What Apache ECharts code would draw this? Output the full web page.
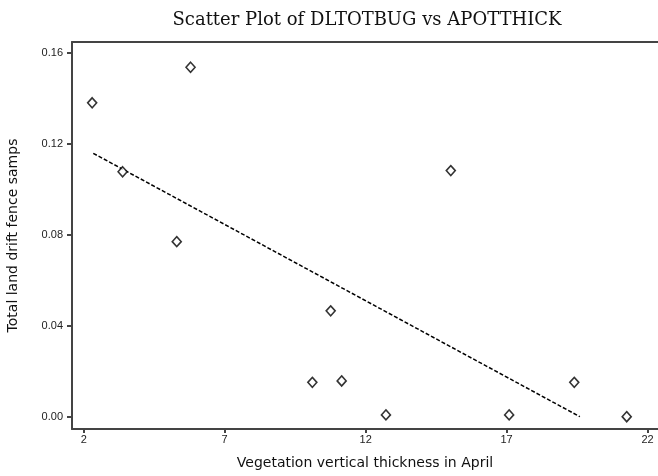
<!DOCTYPE html>
<html>
<head>
<meta charset="utf-8">
<script src="https://cdn.jsdelivr.net/npm/echarts@6/dist/echarts.min.js"></script>
<style>html,body{margin:0;padding:0;background:#fff}#c{width:658px;height:476px}</style>
</head>
<body>
<div id="c"></div>
<script>
const xValues = [2.30, 3.38, 5.79, 5.30, 10.11, 10.76, 11.15, 12.72, 15.02, 17.09, 19.40, 21.26];
const yValues = [0.1380, 0.1077, 0.1536, 0.0770, 0.0152, 0.0466, 0.0158, 0.0009, 0.1082, 0.0009, 0.0152, 0.0001];
const fitX = [2.34, 19.60];
const fitY = [0.1158, 0.0001];
const xTicks = [2, 7, 12, 17, 22];
const yTicks = [0, 0.04, 0.08, 0.12, 0.16];
const yTickLabels = ['0.00', '0.04', '0.08', '0.12', '0.16'];

const points = xValues.map((x, i) => [x, yValues[i]]);
const fitLine = fitX.map((x, i) => [x, fitY[i]]);

const chart = echarts.init(document.getElementById('c'), null, {renderer: 'canvas'});
const axisColor = '#444';
chart.setOption({
  animation: false,
  backgroundColor: '#fff',
  title: {
    text: 'Scatter Plot of DLTOTBUG vs APOTTHICK',
    left: 362, top: 6, textAlign: 'center',
    textStyle: {fontFamily: 'DejaVu Serif', fontWeight: 'normal', fontSize: 18, color: '#111'}
  },
  grid: {left: 72, top: 42, right: 0, bottom: 47, containLabel: false, outerBoundsMode: 'none'},
  xAxis: [{
    type: 'value', min: 1.585, max: 22.37,
    name: 'Vegetation vertical thickness in April', nameLocation: 'middle', nameGap: 27,
    nameTextStyle: {fontFamily: 'DejaVu Sans', fontSize: 14, color: '#111'},
    axisLine: {show: true, onZero: false, lineStyle: {color: axisColor, width: 2}},
    axisTick: {show: true, customValues: xTicks, length: 4, lineStyle: {color: axisColor, width: 2}},
    axisLabel: {customValues: xTicks, fontFamily: 'Liberation Sans', fontSize: 11, color: '#222', margin: 5},
    splitLine: {show: false}
  }, {
    type: 'value', position: 'top', min: 1.585, max: 22.37,
    axisLine: {show: true, onZero: false, lineStyle: {color: axisColor, width: 2}},
    axisTick: {show: false}, axisLabel: {show: false}, splitLine: {show: false}
  }],
  yAxis: {
    type: 'value', min: -0.0053, max: 0.1647,
    name: 'Total land drift fence samps', nameLocation: 'middle', nameGap: 52, nameRotate: 90,
    nameTextStyle: {fontFamily: 'DejaVu Sans', fontSize: 14, color: '#111'},
    axisLine: {show: true, onZero: false, lineStyle: {color: axisColor, width: 2}},
    axisTick: {show: true, customValues: yTicks, length: 5, lineStyle: {color: axisColor, width: 2}},
    axisLabel: {customValues: yTicks, formatter: v => yTickLabels[yTicks.findIndex(t => Math.abs(t - v) < 1e-9)] || v.toFixed(2),
      fontFamily: 'Liberation Sans', fontSize: 11, color: '#222', margin: 9},
    splitLine: {show: false}
  },
  series: [{
    type: 'scatter', data: points, symbol: 'diamond', symbolSize: [9, 10],
    itemStyle: {color: '#fff', borderColor: '#000', borderWidth: 1.6}, z: 3
  }, {
    type: 'line', data: fitLine, showSymbol: false, symbol: 'none',
    lineStyle: {color: '#000', width: 1.5, type: [4, 2]}, z: 2
  }]
});
</script>
</body>
</html>
